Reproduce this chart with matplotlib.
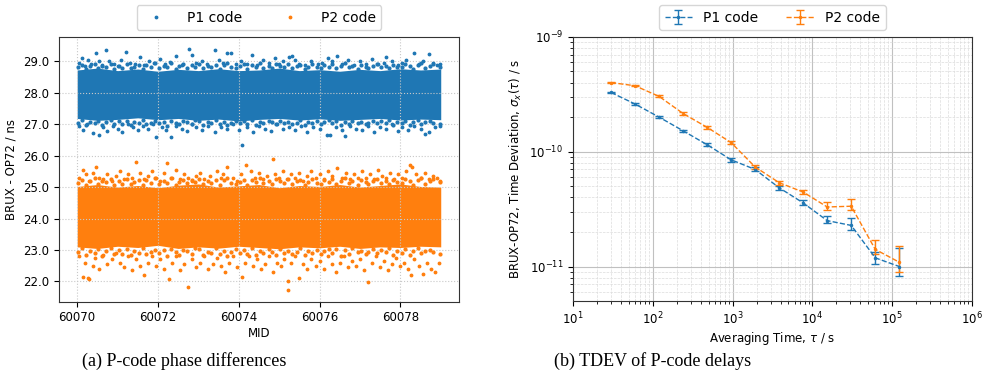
import numpy as np
import matplotlib.pyplot as plt
import matplotlib.ticker as mticker
#------------------------------------------------------------

# (a) phase differences: dense core band edges (every half day) + fringe points
mjd_env = [60070.0, 60070.5, 60071.0, 60071.5, 60072.0, 60072.5, 60073.0, 60073.5,
           60074.0, 60074.5, 60075.0, 60075.5, 60076.0, 60076.5, 60077.0, 60077.5,
           60078.0, 60078.5, 60079.0]
p1_top = [28.72, 28.78, 28.70, 28.75, 28.68, 28.74, 28.70, 28.76, 28.70, 28.72,
          28.78, 28.70, 28.73, 28.68, 28.74, 28.70, 28.76, 28.72, 28.75]
p1_bot = [27.18, 27.12, 27.15, 27.20, 27.14, 27.18, 27.12, 27.16, 27.10, 27.15,
          27.18, 27.13, 27.17, 27.12, 27.15, 27.18, 27.13, 27.16, 27.14]
p2_top = [25.02, 25.08, 25.00, 25.05, 24.98, 25.06, 25.10, 25.00, 25.04, 25.08,
          24.98, 25.05, 25.02, 25.08, 25.00, 25.05, 25.10, 25.02, 25.00]
p2_bot = [23.10, 23.05, 23.12, 23.08, 23.15, 23.05, 23.10, 23.06, 23.12, 23.08,
          23.04, 23.10, 23.07, 23.12, 23.05, 23.10, 23.08, 23.12, 23.10]

# points just outside the core
mjd_near = [60070.02, 60070.13, 60070.22, 60070.31, 60070.43, 60070.52, 60070.61, 60070.72, 60070.83, 60070.91,
            60071.04, 60071.12, 60071.23, 60071.34, 60071.41, 60071.53, 60071.64, 60071.71, 60071.82, 60071.93,
            60072.03, 60072.14, 60072.22, 60072.33, 60072.44, 60072.51, 60072.62, 60072.73, 60072.84, 60072.92,
            60073.02, 60073.11, 60073.24, 60073.32, 60073.43, 60073.54, 60073.63, 60073.72, 60073.81, 60073.94,
            60074.03, 60074.12, 60074.21, 60074.34, 60074.42, 60074.53, 60074.61, 60074.74, 60074.83, 60074.92,
            60075.01, 60075.13, 60075.22, 60075.31, 60075.44, 60075.52, 60075.63, 60075.71, 60075.82, 60075.93,
            60076.04, 60076.11, 60076.23, 60076.32, 60076.41, 60076.54, 60076.62, 60076.73, 60076.81, 60076.94,
            60077.02, 60077.14, 60077.21, 60077.33, 60077.42, 60077.51, 60077.64, 60077.72, 60077.83, 60077.91,
            60078.03, 60078.12, 60078.24, 60078.31, 60078.43, 60078.52, 60078.61, 60078.74, 60078.82, 60078.97]
p1_near_hi = [28.80, 28.88, 28.76, 28.84, 28.92, 28.78, 28.86, 28.82, 28.90, 28.75,
              28.85, 28.79, 28.91, 28.77, 28.83, 28.89, 28.74, 28.87, 28.81, 28.93,
              28.78, 28.86, 28.82, 28.95, 28.76, 28.84, 28.90, 28.79, 28.88, 28.83,
              28.91, 28.77, 28.85, 28.80, 28.89, 28.75, 28.87, 28.93, 28.81, 28.78,
              28.84, 28.90, 28.76, 28.88, 28.82, 28.94, 28.79, 28.85, 28.77, 28.91,
              28.86, 28.80, 28.92, 28.78, 28.85, 28.89, 28.76, 28.83, 28.90, 28.81,
              28.77, 28.87, 28.83, 28.91, 28.79, 28.84, 28.93, 28.80, 28.86, 28.75,
              28.89, 28.82, 28.78, 28.86, 28.92, 28.80, 28.85, 28.77, 28.88, 28.83,
              28.81, 28.90, 28.84, 28.76, 28.87, 28.93, 28.79, 28.85, 28.91, 28.82]
p1_near_lo = [27.05, 27.12, 26.98, 27.08, 27.02, 27.10, 26.96, 27.06, 27.13, 27.00,
              27.09, 27.01, 27.11, 26.97, 27.07, 27.03, 27.12, 26.99, 27.05, 27.10,
              27.02, 27.08, 26.95, 27.11, 27.04, 26.99, 27.09, 27.06, 27.00, 27.13,
              27.10, 26.98, 27.06, 27.03, 27.12, 27.00, 27.08, 26.96, 27.05, 27.11,
              27.04, 27.09, 27.01, 27.13, 26.97, 27.07, 27.02, 27.10, 27.06, 26.99,
              27.11, 27.03, 27.08, 27.00, 27.05, 27.12, 26.98, 27.07, 27.02, 27.09,
              26.99, 27.06, 27.12, 27.04, 27.10, 26.96, 27.08, 27.01, 27.11, 27.05,
              27.07, 27.00, 27.05, 27.11, 27.02, 27.09, 27.04, 27.13, 26.97, 27.06,
              27.03, 27.10, 26.98, 27.07, 27.12, 27.01, 27.06, 27.09, 27.04, 27.00]
p2_near_hi = [25.12, 25.22, 25.08, 25.18, 25.28, 25.10, 25.20, 25.15, 25.25, 25.06,
              25.19, 25.11, 25.26, 25.09, 25.16, 25.23, 25.07, 25.21, 25.13, 25.29,
              25.10, 25.20, 25.14, 25.30, 25.08, 25.17, 25.24, 25.12, 25.22, 25.16,
              25.26, 25.09, 25.18, 25.13, 25.23, 25.07, 25.21, 25.28, 25.14, 25.11,
              25.17, 25.24, 25.08, 25.22, 25.15, 25.29, 25.12, 25.19, 25.10, 25.26,
              25.20, 25.13, 25.27, 25.10, 25.18, 25.24, 25.08, 25.16, 25.25, 25.14,
              25.09, 25.21, 25.16, 25.26, 25.11, 25.18, 25.28, 25.13, 25.20, 25.07,
              25.23, 25.15, 25.10, 25.20, 25.27, 25.12, 25.19, 25.09, 25.22, 25.17,
              25.14, 25.25, 25.18, 25.08, 25.21, 25.28, 25.11, 25.19, 25.26, 25.15]
p2_near_lo = [22.95, 23.05, 22.85, 22.98, 22.90, 23.02, 22.82, 22.96, 23.06, 22.88,
              23.00, 22.87, 23.04, 22.83, 22.97, 22.92, 23.05, 22.86, 22.94, 23.01,
              22.89, 22.99, 22.81, 23.03, 22.93, 22.85, 23.00, 22.96, 22.88, 23.06,
              23.02, 22.84, 22.95, 22.91, 23.05, 22.87, 22.98, 22.82, 22.94, 23.03,
              22.92, 23.00, 22.86, 23.06, 22.83, 22.97, 22.90, 23.02, 22.95, 22.85,
              23.04, 22.91, 22.98, 22.87, 22.94, 23.05, 22.84, 22.97, 22.89, 23.01,
              22.86, 22.96, 23.04, 22.92, 23.02, 22.82, 22.99, 22.88, 23.05, 22.93,
              22.98, 22.88, 22.93, 23.03, 22.90, 23.00, 22.95, 23.06, 22.84, 22.97,
              22.91, 23.02, 22.85, 22.97, 23.05, 22.89, 22.96, 23.00, 22.93, 22.87]

# sparse outer points
p1_hi_x = [60070.05, 60070.12, 60070.20, 60070.28, 60070.35, 60070.47, 60070.55, 60070.62,
           60070.71, 60070.80, 60070.90, 60071.00, 60071.08, 60071.21, 60071.30, 60071.42,
           60071.55, 60071.66, 60071.78, 60071.90, 60072.05, 60072.18, 60072.30, 60072.45,
           60072.60, 60072.77, 60072.85, 60072.95, 60073.10, 60073.22, 60073.40, 60073.52,
           60073.60, 60073.72, 60073.80, 60073.92, 60074.05, 60074.20, 60074.32, 60074.45,
           60074.60, 60074.75, 60074.90, 60075.00, 60075.10, 60075.25, 60075.33, 60075.40,
           60075.50, 60075.65, 60075.80, 60075.95, 60076.05, 60076.20, 60076.30, 60076.43,
           60076.55, 60076.70, 60076.85, 60077.00, 60077.15, 60077.30, 60077.45, 60077.60,
           60077.65, 60077.80, 60077.95, 60078.05, 60078.15, 60078.33, 60078.45, 60078.55,
           60078.70, 60078.80, 60078.90, 60078.98]
p1_hi_y = [28.95, 29.10, 28.85, 29.05, 28.90, 29.27, 29.00, 28.88, 29.37, 29.02, 28.92,
           28.86, 29.05, 29.30, 28.95, 28.90, 29.12, 28.88, 29.00, 28.93, 29.08, 28.90,
           28.98, 29.15, 28.87, 29.39, 29.20, 28.95, 29.02, 28.90, 29.37, 29.05, 28.95,
           29.27, 29.25, 28.90, 29.00, 28.92, 29.20, 28.88, 29.05, 28.95, 29.10, 28.90,
           29.00, 29.12, 29.16, 29.05, 28.92, 28.88, 29.00, 28.90, 28.95, 29.10, 29.00,
           29.16, 28.90, 29.05, 28.88, 29.00, 28.92, 29.08, 28.90, 28.95, 29.13, 29.02,
           28.88, 28.95, 29.05, 29.27, 28.90, 29.00, 29.22, 28.95, 28.88, 28.92]
p1_lo_x = [60070.05, 60070.15, 60070.25, 60070.40, 60070.54, 60070.65, 60070.75, 60070.88,
           60071.00, 60071.12, 60071.25, 60071.38, 60071.50, 60071.63, 60071.75, 60071.88,
           60071.96, 60072.10, 60072.20, 60072.32, 60072.45, 60072.60, 60072.72, 60072.85,
           60072.95, 60073.10, 60073.25, 60073.40, 60073.55, 60073.70, 60073.85, 60074.00,
           60074.09, 60074.20, 60074.35, 60074.50, 60074.65, 60074.80, 60074.95, 60075.10,
           60075.25, 60075.40, 60075.55, 60075.70, 60075.85, 60076.00, 60076.18, 60076.26,
           60076.40, 60076.55, 60076.64, 60076.75, 60076.90, 60077.05, 60077.20, 60077.35,
           60077.50, 60077.65, 60077.80, 60077.95, 60078.05, 60078.20, 60078.35, 60078.50,
           60078.60, 60078.70, 60078.85, 60078.97]
p1_lo_y = [26.95, 26.80, 27.00, 26.72, 26.67, 26.90, 26.78, 26.95, 26.85, 26.75, 27.00,
           26.90, 26.80, 26.95, 26.85, 27.00, 26.60, 26.90, 26.80, 26.60, 26.95, 26.85,
           26.78, 27.00, 26.90, 26.82, 26.95, 26.75, 26.90, 26.85, 27.00, 26.80, 26.35,
           26.90, 26.75, 26.95, 26.85, 26.78, 27.00, 26.85, 26.92, 26.80, 26.95, 26.75,
           26.90, 26.85, 26.64, 26.64, 26.90, 26.80, 26.61, 26.95, 26.85, 26.80, 26.95,
           26.75, 26.90, 26.85, 27.00, 26.78, 26.90, 26.80, 26.95, 26.85, 26.70, 26.75,
           26.90, 26.95]

p2_hi_x = [60070.05, 60070.14, 60070.22, 60070.30, 60070.40, 60070.47, 60070.55, 60070.65,
           60070.75, 60070.85, 60070.95, 60071.05, 60071.15, 60071.25, 60071.35, 60071.46,
           60071.55, 60071.65, 60071.75, 60071.85, 60071.95, 60072.05, 60072.15, 60072.23,
           60072.35, 60072.45, 60072.55, 60072.65, 60072.75, 60072.85, 60072.95, 60073.05,
           60073.15, 60073.30, 60073.45, 60073.55, 60073.62, 60073.72, 60073.85, 60073.95,
           60074.05, 60074.19, 60074.30, 60074.40, 60074.50, 60074.60, 60074.70, 60074.84,
           60074.90, 60075.00, 60075.10, 60075.20, 60075.30, 60075.40, 60075.50, 60075.60,
           60075.70, 60075.80, 60075.90, 60076.00, 60076.10, 60076.20, 60076.30, 60076.43,
           60076.55, 60076.65, 60076.75, 60076.85, 60076.95, 60077.05, 60077.15, 60077.25,
           60077.35, 60077.45, 60077.55, 60077.65, 60077.75, 60077.85, 60077.95, 60078.05,
           60078.15, 60078.25, 60078.30, 60078.40, 60078.50, 60078.60, 60078.70, 60078.80,
           60078.90, 60078.98]
p2_hi_y = [25.30, 25.55, 25.40, 25.20, 25.45, 25.65, 25.30, 25.25, 25.40, 25.20, 25.35,
           25.50, 25.25, 25.40, 25.30, 25.81, 25.45, 25.25, 25.35, 25.50, 25.30, 25.20,
           25.45, 25.76, 25.30, 25.55, 25.25, 25.40, 25.30, 25.20, 25.35, 25.45, 25.25,
           25.35, 25.50, 25.30, 25.40, 25.65, 25.30, 25.20, 25.40, 25.70, 25.50, 25.30,
           25.45, 25.25, 25.35, 25.90, 25.40, 25.30, 25.50, 25.25, 25.40, 25.30, 25.45,
           25.20, 25.35, 25.50, 25.30, 25.40, 25.25, 25.50, 25.35, 25.60, 25.30, 25.45,
           25.25, 25.40, 25.30, 25.50, 25.30, 25.40, 25.25, 25.55, 25.35, 25.30, 25.45,
           25.25, 25.40, 25.30, 25.50, 25.71, 25.65, 25.40, 25.30, 25.45, 25.25, 25.35,
           25.30, 25.20]
p2_lo_x = [60070.05, 60070.14, 60070.20, 60070.26, 60070.30, 60070.38, 60070.45, 60070.55,
           60070.65, 60070.75, 60070.85, 60070.95, 60071.05, 60071.15, 60071.25, 60071.35,
           60071.45, 60071.55, 60071.65, 60071.75, 60071.85, 60071.95, 60072.05, 60072.15,
           60072.27, 60072.35, 60072.45, 60072.55, 60072.65, 60072.74, 60072.85, 60072.95,
           60073.05, 60073.15, 60073.25, 60073.35, 60073.45, 60073.55, 60073.65, 60073.75,
           60073.85, 60073.95, 60074.08, 60074.15, 60074.25, 60074.35, 60074.45, 60074.55,
           60074.65, 60074.75, 60074.85, 60074.95, 60075.05, 60075.12, 60075.23, 60075.23,
           60075.30, 60075.40, 60075.50, 60075.60, 60075.70, 60075.80, 60075.90, 60076.00,
           60076.10, 60076.20, 60076.30, 60076.40, 60076.50, 60076.60, 60076.70, 60076.80,
           60076.90, 60077.00, 60077.10, 60077.21, 60077.30, 60077.40, 60077.50, 60077.60,
           60077.70, 60077.80, 60077.90, 60078.00, 60078.10, 60078.20, 60078.26, 60078.35,
           60078.45, 60078.55, 60078.65, 60078.75, 60078.85, 60078.95]
p2_lo_y = [22.80, 22.15, 22.60, 22.10, 22.07, 22.50, 22.75, 22.40, 22.85, 22.55, 22.70,
           22.90, 22.60, 22.45, 22.80, 22.35, 22.70, 22.50, 22.20, 22.60, 22.80, 22.50,
           22.70, 22.40, 22.07, 22.60, 22.80, 22.35, 22.55, 21.82, 22.70, 22.45, 22.60,
           22.80, 22.40, 22.55, 22.75, 22.50, 22.30, 22.60, 22.80, 22.45, 22.15, 22.60,
           22.80, 22.50, 22.70, 22.40, 22.55, 22.80, 22.30, 22.60, 22.50, 22.70, 22.00,
           21.74, 22.60, 22.80, 22.12, 22.55, 22.40, 22.70, 22.50, 22.65, 22.40, 22.80,
           22.55, 22.30, 22.60, 22.80, 22.45, 22.65, 22.50, 22.70, 22.35, 21.99, 22.60,
           22.80, 22.45, 22.65, 22.35, 22.55, 22.75, 22.50, 22.60, 22.40, 22.20, 22.70,
           22.50, 22.25, 22.60, 22.40, 22.30, 22.60]

# (b) TDEV
tau = [30, 60, 120, 240, 480, 960, 1920, 3840, 7680, 15360, 30720, 61440, 122880]
p1_tdev = [3.28e-10, 2.60e-10, 2.00e-10, 1.52e-10, 1.15e-10, 8.5e-11, 7.0e-11,
           4.85e-11, 3.58e-11, 2.51e-11, 2.28e-11, 1.19e-11, 1.00e-11]
p1_lo = [3.24e-10, 2.56e-10, 1.96e-10, 1.48e-10, 1.12e-10, 8.2e-11, 6.75e-11,
         4.65e-11, 3.41e-11, 2.37e-11, 2.10e-11, 1.055e-11, 8.35e-12]
p1_hi = [3.32e-10, 2.64e-10, 2.04e-10, 1.56e-10, 1.18e-10, 8.8e-11, 7.3e-11,
         5.05e-11, 3.77e-11, 2.74e-11, 2.65e-11, 1.33e-11, 1.455e-11]
p2_tdev = [4.00e-10, 3.75e-10, 3.03e-10, 2.15e-10, 1.63e-10, 1.20e-10, 7.36e-11,
           5.37e-11, 4.45e-11, 3.30e-11, 3.35e-11, 1.41e-11, 1.09e-11]
p2_lo = [3.95e-10, 3.70e-10, 2.97e-10, 2.10e-10, 1.59e-10, 1.16e-10, 7.05e-11,
         5.15e-11, 4.25e-11, 3.09e-11, 3.13e-11, 1.29e-11, 8.9e-12]
p2_hi = [4.05e-10, 3.80e-10, 3.09e-10, 2.20e-10, 1.67e-10, 1.24e-10, 7.7e-11,
         5.60e-11, 4.67e-11, 3.62e-11, 3.88e-11, 1.69e-11, 1.52e-11]
#------------------------------------------------------------

c1 = "#1f77b4"
c2 = "#ff7f0e"
plt.rcParams['font.family'] = ['DejaVu Sans']

fig = plt.figure(figsize=(9.85, 3.8), dpi=100)
ax1 = fig.add_axes([0.0599, 0.206, 0.406, 0.697])
ax2 = fig.add_axes([0.5817, 0.208, 0.405, 0.695])

# --- left panel
ax1.fill_between(mjd_env, p1_bot, p1_top, color=c1, lw=0)
ax1.fill_between(mjd_env, p2_bot, p2_top, color=c2, lw=0)
ax1.plot(mjd_near + mjd_near, p1_near_hi + p1_near_lo, '.', color=c1, ms=4)
ax1.plot(mjd_near + mjd_near, p2_near_hi + p2_near_lo, '.', color=c2, ms=4)
ax1.plot(p1_hi_x + p1_lo_x, p1_hi_y + p1_lo_y, '.', color=c1, ms=3.5, label="P1 code")
ax1.plot(p2_hi_x + p2_lo_x, p2_hi_y + p2_lo_y, '.', color=c2, ms=3.5, label="P2 code")
ax1.set_xticks([60070, 60072, 60074, 60076, 60078])
ax1.xaxis.set_major_formatter(mticker.FormatStrFormatter('%d'))
ax1.yaxis.set_major_formatter(mticker.FormatStrFormatter('%.1f'))
ax1.grid(True, linestyle=':', color='#c8c8c8', lw=0.8)
ax1.set_xlabel("MID", fontsize=8.5, labelpad=2)
ax1.set_ylabel("BRUX - OP72 / ns", fontsize=8.5)
ax1.tick_params(labelsize=8.5)
ax1.legend(loc='lower center', bbox_to_anchor=(0.5, 1.015), ncol=2, fontsize=10,
           columnspacing=2.5, handletextpad=1.2, borderaxespad=0.2)

# --- right panel
ax2.errorbar(tau, p1_tdev,
             yerr=[np.array(p1_tdev) - np.array(p1_lo), np.array(p1_hi) - np.array(p1_tdev)],
             fmt='.--', color=c1, ms=3, lw=1, capsize=3, label="P1 code")
ax2.errorbar(tau, p2_tdev,
             yerr=[np.array(p2_tdev) - np.array(p2_lo), np.array(p2_hi) - np.array(p2_tdev)],
             fmt='.--', color=c2, ms=3, lw=1, capsize=3, label="P2 code")
ax2.set_xscale('log')
ax2.set_yscale('log')
ax2.set_xlim(1e1, 1e6)
ax2.set_ylim(10**-11.3, 1e-9)
ax2.grid(True, which='major', color='#c0c0c0', lw=0.8)
ax2.grid(True, which='minor', color='#dcdcdc', lw=0.5, linestyle='--')
ax2.set_xlabel(r"Averaging Time, $\tau$ / s", fontsize=8.5, labelpad=2)
ax2.set_ylabel(r"BRUX-OP72, Time Deviation, $\sigma_x(\tau)$ / s", fontsize=8.5)
ax2.tick_params(labelsize=8.5)
ax2.legend(loc='lower center', bbox_to_anchor=(0.5, 1.015), ncol=2, fontsize=10,
           columnspacing=2.0, borderaxespad=0.2)

for ax in (ax1, ax2):
    for sp in ax.spines.values():
        sp.set_color('#333333')

fig.text(0.083, 0.025, "(a) P-code phase differences", family='Liberation Serif',
         fontsize=13, va='bottom')
fig.text(0.562, 0.025, "(b) TDEV of P-code delays", family='Liberation Serif',
         fontsize=13, va='bottom')

fig.savefig("out.png", dpi=100)
plt.close()
#---------------------------------------------------
